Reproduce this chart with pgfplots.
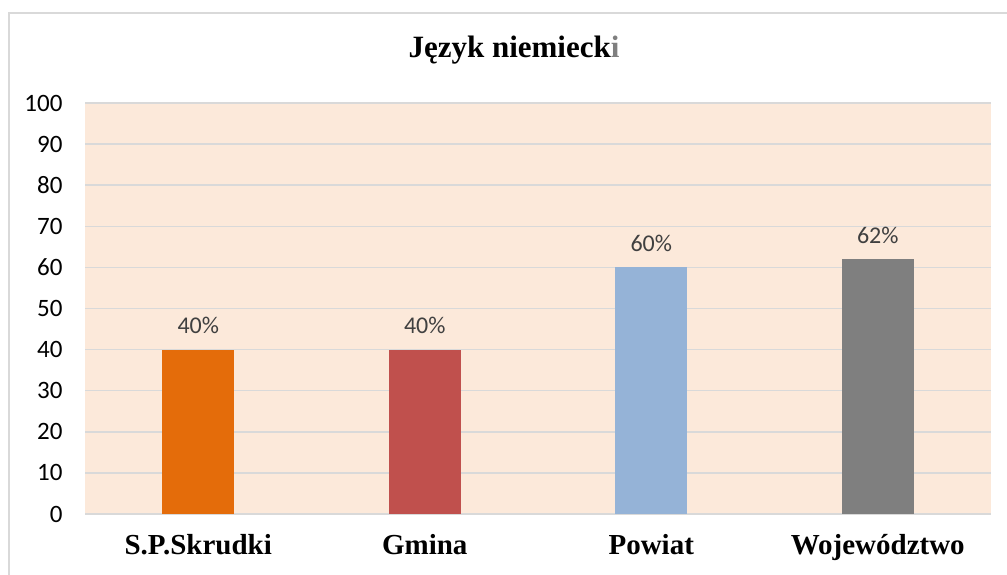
\documentclass[border=0pt]{standalone}
\usepackage{pgfplots}
\pgfplotsset{compat=1.18}
\usepackage{fontspec}
\setmainfont{Liberation Serif}
\newfontfamily\calibri{Carlito}
\definecolor{peach}{HTML}{FCE9DA}
\definecolor{gridgray}{HTML}{D9D9D9}
\definecolor{barorange}{HTML}{E46C0A}
\definecolor{barred}{HTML}{C0504D}
\definecolor{barblue}{HTML}{95B3D7}
\definecolor{bargray}{HTML}{7F7F7F}
\definecolor{labelgray}{HTML}{404040}

\begin{document}
\begin{tikzpicture}[x=1pt,y=1pt]
  \useasboundingbox (0,0) rectangle (1007,574);
  % outer chart frame (only left and top edges fall inside the picture)
  \draw[gridgray, line width=1.5pt] (9,-10) -- (9,561) -- (1020,561);

  \node[font=\fontsize{31}{36}\selectfont\bfseries, anchor=base] at (514,516)
    {Język niemieck\textcolor{bargray}{i}};

  \begin{axis}[
    at={(85pt,60pt)}, anchor=south west,
    width=906pt, height=411pt, scale only axis,
    xmin=-0.5, xmax=3.5,
    ymin=0, ymax=100,
    ytick={0,10,...,100},
    xtick={0,1,2,3},
    xticklabels={S.P.Skrudki,Gmina,Powiat,Województwo},
    major tick length=0pt,
    axis line style={draw=none},
    axis background/.style={fill=peach},
    ymajorgrids=true,
    grid style={gridgray, line width=1.5pt},
    /pgf/number format/assume math mode=true,
    yticklabel style={font=\calibri\fontsize{25}{29}\selectfont, anchor=east, xshift=-19pt},
    xticklabel style={font=\fontsize{29}{34}\selectfont\bfseries, anchor=north, yshift=-17pt},
    ybar, bar width=72pt, bar shift=0pt,
    nodes near coords={\pgfmathprintnumber{\pgfplotspointmeta}\%},
    nodes near coords style={font=\calibri\fontsize{24}{28}\selectfont, text=labelgray, anchor=south, yshift=12pt},
    clip=false,
  ]
    \addplot[fill=barorange, draw=none] coordinates {(0,40)};
    \addplot[fill=barred, draw=none] coordinates {(1,40)};
    \addplot[fill=barblue, draw=none] coordinates {(2,60)};
    \addplot[fill=bargray, draw=none] coordinates {(3,62)};
  \end{axis}
\end{tikzpicture}
\end{document}
